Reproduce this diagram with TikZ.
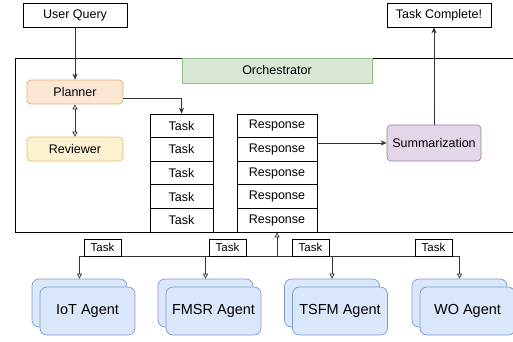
\documentclass[tikz,border=0pt]{standalone}
\usepackage{fontspec}
\setmainfont{Liberation Sans}
\usetikzlibrary{arrows.meta}
\definecolor{orF}{HTML}{FAE6D2}\definecolor{orD}{HTML}{E3B26A}
\definecolor{yeF}{HTML}{FCF2D0}\definecolor{yeD}{HTML}{DDC06E}
\definecolor{grF}{HTML}{D8E8D5}\definecolor{grD}{HTML}{93BE85}
\definecolor{puF}{HTML}{E2D6E8}\definecolor{puD}{HTML}{9B7CAB}
\definecolor{blF}{HTML}{DAE6FA}\definecolor{blD}{HTML}{7D9BCB}
\definecolor{ln}{HTML}{333333}
\begin{document}
\begin{tikzpicture}[x=1pt,y=-1pt,
  plainbox/.style={draw=black,fill=white,line width=0.7pt,inner sep=0pt,font=\fontsize{12.5}{14}\selectfont},
  rbox/.style={rounded corners=4pt,line width=0.7pt,inner sep=0pt,font=\fontsize{12.5}{14}\selectfont},
  cell/.style={draw=black,fill=white,line width=0.7pt,inner sep=0pt,minimum height=23.6pt,font=\fontsize{12.5}{14}\selectfont},
  agent/.style={draw=blD,fill=blF,rounded corners=7pt,line width=0.7pt,minimum width=95pt,minimum height=48pt,inner sep=0pt,font=\fontsize{14.5}{16}\selectfont},
  tlabel/.style={draw=black,fill=white,line width=0.6pt,minimum width=37pt,minimum height=17pt,inner sep=0pt,font=\fontsize{11.5}{13}\selectfont},
  conn/.style={draw=ln,line width=0.7pt},
  fillarrow/.style={conn,-{Stealth[length=6pt,width=5pt]}},
  openarrow/.style={conn,-{Triangle[open,length=5pt,width=5pt]}},
]
\clip (0,0) rectangle (513,341);
\fill[white] (0,0) rectangle (513,341);
% orchestrator frame
\draw[line width=0.7pt,black] (15,58) rectangle (530,232);
\node[draw=grD,fill=grF,line width=0.7pt,minimum width=190pt,minimum height=25pt,inner sep=0pt,font=\fontsize{12.5}{14}\selectfont] (orch) at (277,70.5) {Orchestrator};
% top boxes
\node[plainbox,minimum width=104pt,minimum height=24pt] (uq) at (75,15) {User Query};
\node[plainbox,minimum width=104pt,minimum height=24pt] (tc) at (439,15) {Task Complete!};
% planner & reviewer
\node[rbox,draw=orD,fill=orF,minimum width=96pt,minimum height=24pt] (pl) at (75,92) {Planner};
\node[rbox,draw=yeD,fill=yeF,minimum width=96pt,minimum height=24pt] (rv) at (75,149) {Reviewer};
% task and response columns
\foreach \i in {1,...,5}{
  \node[cell,minimum width=63pt] (t\i) at (181.5,{114+23.6*(\i-0.5)}) {Task};
  \node[cell,minimum width=80pt] (r\i) at (277,{114+23.6*(\i-0.5)}) {Response};
}
% summarization
\node[rbox,draw=puD,fill=puF,minimum width=94pt,minimum height=36pt] (sm) at (434,143) {Summarization};
% agents
\foreach \n/\x/\t in {iot/79.5/IoT Agent,fmsr/205.5/FMSR Agent,tsfm/332/TSFM Agent,wo/459.5/WO Agent}{
  \node[agent] (\n B) at (\x,303) {};
  \node[agent] (\n) at (\x+8,311) {\t};
}
% connectors
\draw[fillarrow] (uq.south) -- (pl.north);
\draw[conn,{Triangle[open,length=5pt,width=5pt]}-{Triangle[open,length=5pt,width=5pt]}] (pl.south) -- (rv.north);
\draw[fillarrow] ([yshift=-6pt]pl.east) -| (t1.north);
\draw[fillarrow] (sm.west -| r2.east) -- (sm.west);
\draw[fillarrow] (sm.north) -- (sm.north |- tc.south);
\coordinate (J) at (277,256);
\draw[openarrow] (J) -- (r5.south);
\draw[openarrow] (J) -| (iotB.north);
\draw[openarrow] (J) -| (fmsrB.north);
\draw[openarrow] (J) -| (tsfmB.north);
\draw[openarrow] (J) -| (woB.north);
% task labels
\node[tlabel] (l1) at (102.5,247.5) {Task};
\node[tlabel] (l2) at (227.5,247.5) {Task};
\node[tlabel] (l3) at (310.5,247.5) {Task};
\node[tlabel] (l4) at (433.5,247.5) {Task};
\end{tikzpicture}
\end{document}
